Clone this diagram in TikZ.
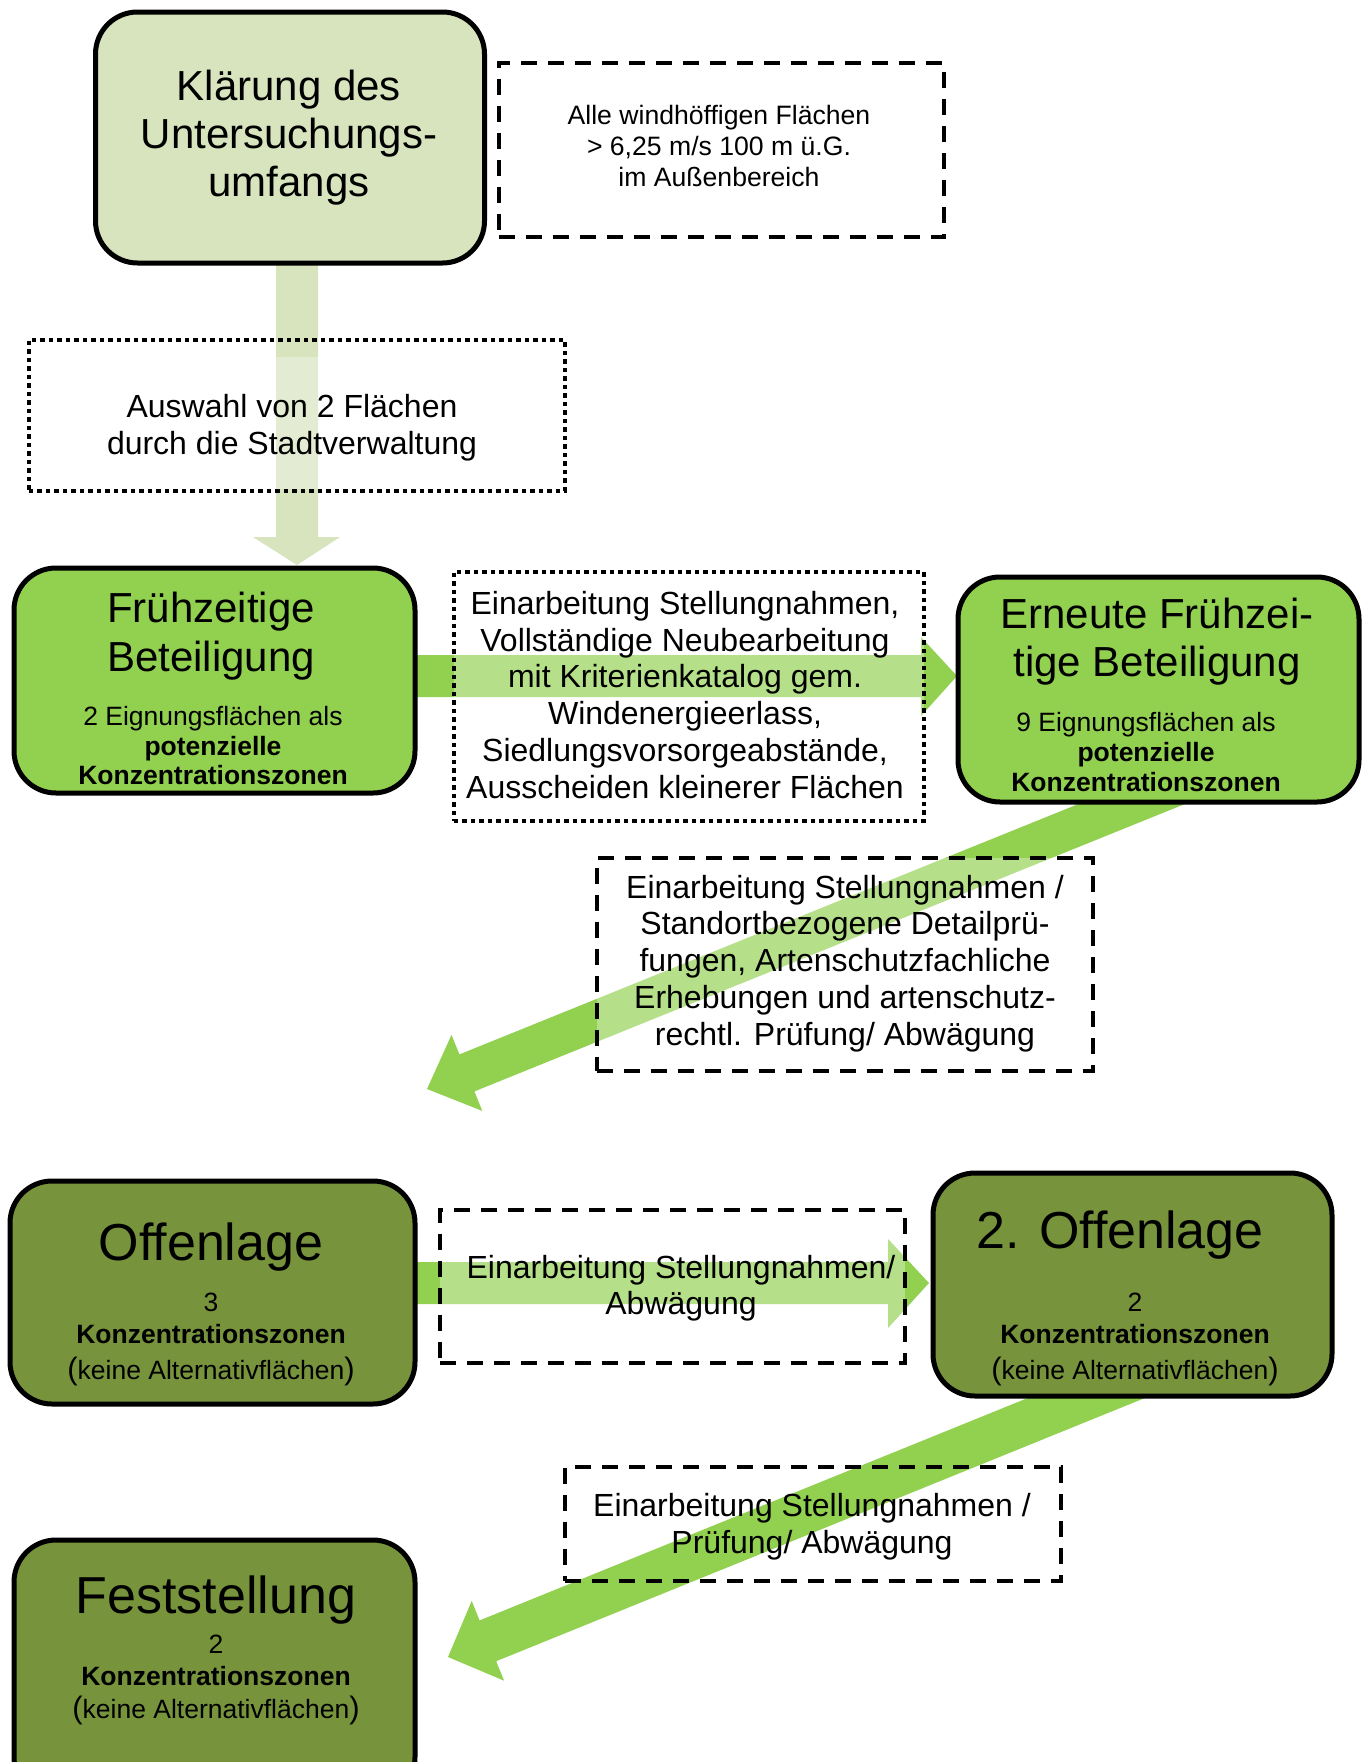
\documentclass[tikz,border=0pt]{standalone}
\usepackage{fontspec}
\setmainfont{Liberation Sans}
\begin{document}
\begin{tikzpicture}[x=1pt,y=-1pt,
  solidbox/.style={draw=black, line width=5pt, rounded corners=42pt, inner sep=0pt},
  dashbox/.style={draw=black, line width=4pt, dash pattern=on 16pt off 11pt, inner sep=0pt},
  dotbox/.style={draw=black, line width=4pt, dash pattern=on 4.5pt off 4pt, inner sep=0pt},
  veil/.style={fill=white, fill opacity=0.32},
  txt/.style={align=center, inner sep=0pt, text=black},
  ttl/.style={txt, font=\fontsize{42}{48}\selectfont},
  bigttl/.style={txt, font=\fontsize{52}{60}\selectfont},
  sub/.style={txt, font=\fontsize{26.5}{30}\selectfont},
  mid/.style={txt, font=\fontsize{32}{36.8}\selectfont}
]
\definecolor{pale}{HTML}{D7E4BD}
\definecolor{lime}{HTML}{92D050}
\definecolor{olive}{HTML}{77933C}
\useasboundingbox (0,0) rectangle (1372,1762);
\clip (0,0) rectangle (1372,1762);
\fill[white] (0,0) rectangle (1372,1762);

% ---------- connectors (arrows) ----------
% vertical pale arrow
\coordinate (a1s) at (297,255);
\coordinate (a1t) at (297,565);
\fill[pale] (276,255) -- (318,255) -- (318,537) -- (340,537) -- (a1t) -- (253,537) -- (276,537) -- cycle;
% horizontal arrow 1
\coordinate (a2t) at (957,676);
\fill[lime] (405,655) -- (921,655) -- (921,637) -- (a2t) -- (921,716) -- (921,697) -- (405,697) -- cycle;
% diagonal arrow 1
\coordinate (a3t) at (427,1089);
\fill[lime] (1182.5,761.9) -- (1197.5,798.9) -- (474.4,1091.4) -- (482.3,1110.9) -- (a3t) -- (451.5,1034.9) -- (459.4,1054.4) -- cycle;
% horizontal arrow 2
\coordinate (a4t) at (929,1283);
\fill[lime] (405,1262) -- (888,1262) -- (888,1239) -- (a4t) -- (888,1328) -- (888,1304) -- (405,1304) -- cycle;
% diagonal arrow 2
\coordinate (a5t) at (448,1657);
\fill[lime] (1147,1349.6) -- (1163.6,1390.4) -- (496.2,1661.2) -- (504.1,1680.7) -- (a5t) -- (471.7,1600.9) -- (479.6,1620.4) -- cycle;

% ---------- solid boxes ----------
\node[solidbox, fill=pale, minimum width=389, minimum height=251] (klaerung) at (290,137.5) {};
\node[solidbox, fill=lime, minimum width=401, minimum height=225] (frueh) at (214.5,680.5) {};
\node[solidbox, fill=lime, minimum width=401, minimum height=225] (erneut) at (1158.5,689.5) {};
\node[solidbox, fill=olive, minimum width=405, minimum height=223] (offen) at (212.5,1292.5) {};
\node[solidbox, fill=olive, minimum width=399, minimum height=223] (offen2) at (1132.5,1284.5) {};
\node[solidbox, fill=olive, minimum width=401, minimum height=259] (fest) at (214.5,1669.5) {};

% ---------- dashed / dotted boxes ----------
\fill[veil] (28,357) rectangle (565,489);
\node[dashbox, minimum width=445, minimum height=174] (alle) at (721,149.5) {};
\node[dotbox, minimum width=536, minimum height=151] (auswahl) at (296.5,415) {};
\node[dotbox, veil, draw opacity=1, minimum width=470, minimum height=249] (einarb1) at (688.5,696) {};
\node[dashbox, veil, draw opacity=1, minimum width=496, minimum height=213] (einarb2) at (844.5,964) {};
\node[dashbox, veil, draw opacity=1, minimum width=465, minimum height=153] (einarb3) at (672,1286) {};
\node[dashbox, minimum width=496, minimum height=114] (einarb4) at (812.5,1523.5) {};

% ---------- texts ----------
\node[ttl] (tklaerung) at (289,138) {Klärung des\\Untersuchungs-\\umfangs};
\node[txt, font=\fontsize{26.6}{31}\selectfont] (talle) at (719,145.5) {Alle windhöffigen Flächen\\> 6,25 m/s 100 m ü.G.\\im Außenbereich};
\node[mid, font=\fontsize{32}{37}\selectfont] (tauswahl) at (292,427.5) {Auswahl von 2 Flächen\\durch die Stadtverwaltung};
\node[ttl, font=\fontsize{42}{49}\selectfont] (tfrueh) at (211,636.2) {Frühzeitige\\Beteiligung};
\node[sub, font=\fontsize{26.5}{29.5}\selectfont] (sfrueh) at (213,746) {2 Eignungsflächen als\\\textbf{potenzielle}\\\textbf{Konzentrationszonen}};
\node[mid] (teinarb1) at (685,694.8) {Einarbeitung Stellungnahmen,\\Vollständige Neubearbeitung\\mit Kriterienkatalog gem.\\Windenergieerlass,\\Siedlungsvorsorgeabstände,\\Ausscheiden kleinerer Flächen};
\node[ttl] (terneut) at (1157,642) {Erneute Frühzei-\\tige Beteiligung};
\node[sub] (serneut) at (1146,752) {9 Eignungsflächen als\\\textbf{potenzielle}\\\textbf{Konzentrationszonen}};
\node[mid] (teinarb2) at (845,963.5) {Einarbeitung Stellungnahmen /\\Standortbezogene Detailprü-\\fungen, Artenschutzfachliche\\Erhebungen und artenschutz-\\rechtl. Prüfung/ Abwägung};
\node[bigttl] (toffen) at (211,1247.2) {Offenlage};
\node[sub, font=\fontsize{26.5}{32}\selectfont] (soffen) at (211,1339) {3\\\textbf{Konzentrationszonen}\\[4pt]{\fontsize{31}{32}\selectfont(}keine Alternativflächen{\fontsize{31}{32}\selectfont)}};
\node[mid, font=\fontsize{32}{36}\selectfont] (teinarb3) at (681,1288) {Einarbeitung Stellungnahmen/\\Abwägung};
\node[bigttl] (toffen2) at (1120,1235.2) {2. Offenlage};
\node[sub, font=\fontsize{26.5}{32}\selectfont] (soffen2) at (1135,1339) {2\\\textbf{Konzentrationszonen}\\[4pt]{\fontsize{31}{32}\selectfont(}keine Alternativflächen{\fontsize{31}{32}\selectfont)}};
\node[mid, font=\fontsize{32}{37}\selectfont] (teinarb4) at (812,1527) {Einarbeitung Stellungnahmen /\\Prüfung/ Abwägung};
\node[bigttl] (tfest) at (216,1600) {Feststellung};
\node[sub, font=\fontsize{26.5}{32}\selectfont] (sfest) at (216,1680) {2\\\textbf{Konzentrationszonen}\\[1pt]{\fontsize{31}{32}\selectfont(}keine Alternativflächen{\fontsize{31}{32}\selectfont)}};
\end{tikzpicture}
\end{document}
